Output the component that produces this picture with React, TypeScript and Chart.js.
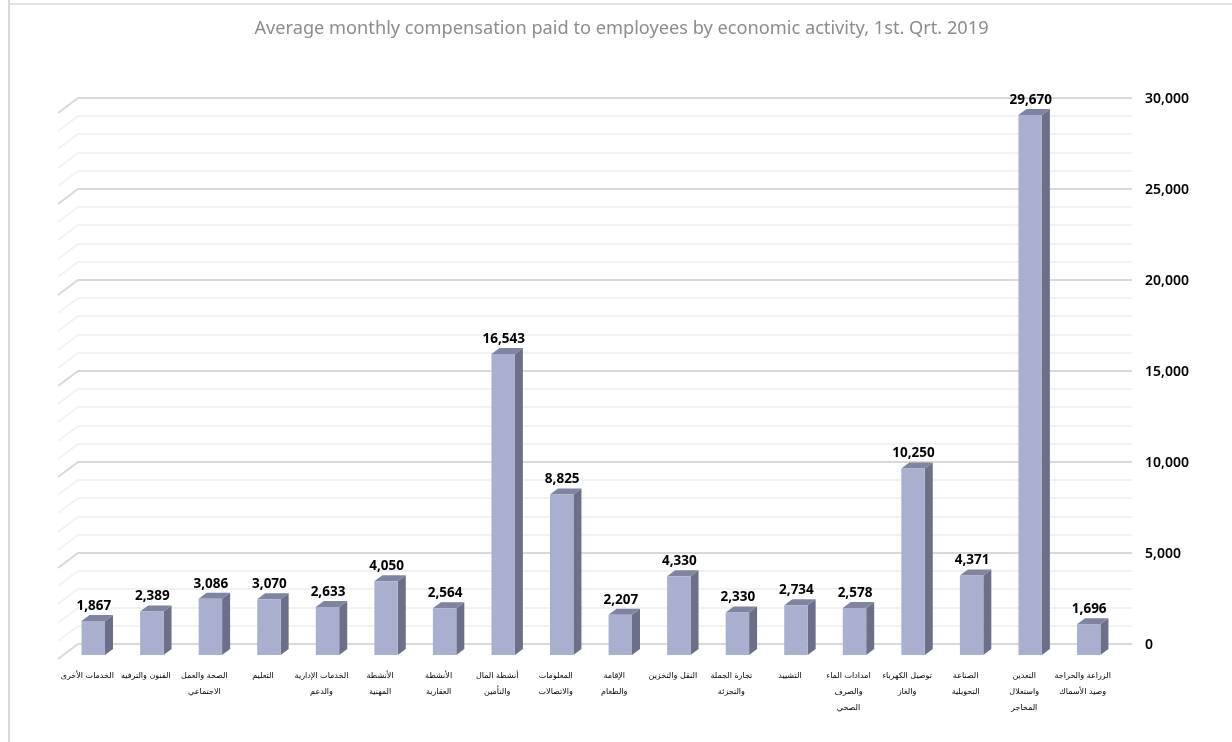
import React, { useEffect, useRef } from "react";
import { Chart, registerables } from "chart.js";

Chart.register(...registerables);

const titleText = "Average monthly compensation paid to employees by economic activity, 1st. Qrt. 2019";
const categories: (string | string[])[] = [
  "الخدمات الأخرى",
  "الفنون والترفيه",
  ["الصحة والعمل", "الاجتماعي"],
  "التعليم",
  ["الخدمات الإدارية", "والدعم"],
  ["الأنشطة", "المهنية"],
  ["الأنشطة", "العقارية"],
  ["أنشطة المال", "والتأمين"],
  ["المعلومات", "والاتصالات"],
  ["الإقامة", "والطعام"],
  "النقل والتخزين",
  ["تجارة الجملة", "والتجزئة"],
  "التشييد",
  ["امدادات الماء", "والصرف", "الصحي"],
  ["توصيل الكهرباء", "والغاز"],
  ["الصناعة", "التحويلية"],
  ["التعدين", "واستغلال", "المحاجر"],
  ["الزراعة والحراجة", "وصيد الأسماك"],
];
const compensation = [1867, 2389, 3086, 3070, 2633, 4050, 2564, 16543, 8825, 2207, 4330, 2330, 2734, 2578, 10250, 4371, 29670, 1696];
const minorGridValues = [
  1000, 2000, 3000, 4000, 6000, 7000, 8000, 9000, 11000, 12000, 13000, 14000, 16000, 17000, 18000,
  19000, 21000, 22000, 23000, 24000, 26000, 27000, 28000, 29000,
];
const majorGridValues = [0, 5000, 10000, 15000, 20000, 25000, 30000];

const FONT = "'Noto Sans', 'DejaVu Sans'";
const ARABIC = "'DejaVu Sans'";
const DX = -14;
const DY = 11;
const DEPTH_X = 8;
const DEPTH_Y = 6;
const MAJOR = "#d9d9d9";
const MINOR = "#f2f2f2";

const depthPlugin = {
  id: "depth",
  beforeDraw(chart: any) {
    const { ctx, scales, chartArea } = chart;
    const y = scales.y;
    ctx.save();
    ctx.strokeStyle = MAJOR;
    ctx.lineWidth = 2;
    ctx.beginPath();
    ctx.moveTo(9, 0);
    ctx.lineTo(9, chart.height);
    ctx.stroke();
    ctx.lineWidth = 1.5;
    ctx.beginPath();
    ctx.moveTo(9, 4);
    ctx.lineTo(chart.width, 4);
    ctx.stroke();
    const drawLines = (values: number[], color: string) => {
      ctx.strokeStyle = color;
      ctx.lineWidth = 2;
      values.forEach((v) => {
        const p = Math.round(y.getPixelForValue(v));
        ctx.beginPath();
        ctx.moveTo(chartArea.right, p);
        ctx.lineTo(chartArea.left, p);
        ctx.lineTo(chartArea.left - 20, p + 15);
        ctx.stroke();
      });
    };
    drawLines(minorGridValues, MINOR);
    drawLines(majorGridValues, MAJOR);
    ctx.restore();
  },
  beforeDatasetsDraw(chart: any) {
    const { ctx } = chart;
    ctx.save();
    ctx.translate(DX, DY);
    chart.getDatasetMeta(0).data.forEach((bar: any) => {
      const r = bar.x + bar.width / 2;
      const l = bar.x - bar.width / 2;
      ctx.fillStyle = "#6b7088";
      ctx.beginPath();
      ctx.moveTo(r, bar.y);
      ctx.lineTo(r + DEPTH_X, bar.y - DEPTH_Y);
      ctx.lineTo(r + DEPTH_X, bar.base - DEPTH_Y);
      ctx.lineTo(r, bar.base);
      ctx.closePath();
      ctx.fill();
      ctx.fillStyle = "#7f84a0";
      ctx.beginPath();
      ctx.moveTo(l, bar.y);
      ctx.lineTo(l + DEPTH_X, bar.y - DEPTH_Y);
      ctx.lineTo(r + DEPTH_X, bar.y - DEPTH_Y);
      ctx.lineTo(r, bar.y);
      ctx.closePath();
      ctx.fill();
    });
  },
  afterDatasetsDraw(chart: any) {
    const { ctx } = chart;
    const values = chart.data.datasets[0].data;
    ctx.fillStyle = "#000000";
    ctx.font = `bold 13.5px ${FONT}`;
    ctx.textAlign = "center";
    ctx.textBaseline = "middle";
    chart.getDatasetMeta(0).data.forEach((bar: any, i: number) => {
      ctx.fillText(values[i].toLocaleString("en-US"), bar.x + 0.5, bar.y - 15);
    });
    ctx.restore();
  },
};

export default function App() {
  const ref = useRef<HTMLCanvasElement>(null);
  useEffect(() => {
    const chart = new Chart(ref.current!, {
      type: "bar",
      data: {
        labels: categories as any,
        datasets: [
          {
            data: compensation,
            backgroundColor: "#a9b0cf",
            borderWidth: 0,
            categoryPercentage: 1,
            barPercentage: 0.4,
            clip: false as any,
            yAxisID: "y",
          },
        ],
      },
      options: {
        responsive: false,
        animation: false,
        layout: { padding: { left: 11, right: 0, top: 0, bottom: 0 } },
        plugins: {
          legend: { display: false },
          tooltip: { enabled: false },
          title: {
            display: true,
            text: titleText,
            color: "#8c8c8c",
            font: { family: FONT, size: 18.2, weight: "normal", lineHeight: 1.2 },
            padding: { top: 18, bottom: 58.16 },
          },
        },
        scales: {
          x: {
            grid: { display: false },
            border: { display: false },
            afterFit(s: any) {
              s.height = 98;
            },
            ticks: {
              autoSkip: false,
              maxRotation: 0,
              minRotation: 0,
              padding: 16,
              labelOffset: -20,
              color: "#000000",
              font: { family: ARABIC, size: 8, lineHeight: 2 },
            },
          },
          spacer: {
            position: "left",
            grid: { display: false },
            border: { display: false },
            ticks: { display: false },
            afterFit(s: any) {
              s.width = 67;
            },
          },
          y: {
            position: "right",
            min: 0,
            max: 30000,
            border: { display: false },
            grid: { display: false, drawTicks: false },
            afterFit(s: any) {
              s.width = 100;
            },
            ticks: {
              stepSize: 5000,
              autoSkip: false,
              padding: 13,
              labelOffset: 1.5,
              color: "#000000",
              font: { family: FONT, size: 14, weight: "600" },
              callback: (v: any) => Number(v).toLocaleString("en-US"),
            },
          },
        },
      } as any,
      plugins: [depthPlugin as any],
    });
    return () => chart.destroy();
  }, []);
  return (
    <div style={{ position: "fixed", left: 0, top: 0, width: 1232, height: 742, background: "#fff" }}>
      <canvas ref={ref} width={1232} height={742} style={{ display: "block" }} />
    </div>
  );
}
